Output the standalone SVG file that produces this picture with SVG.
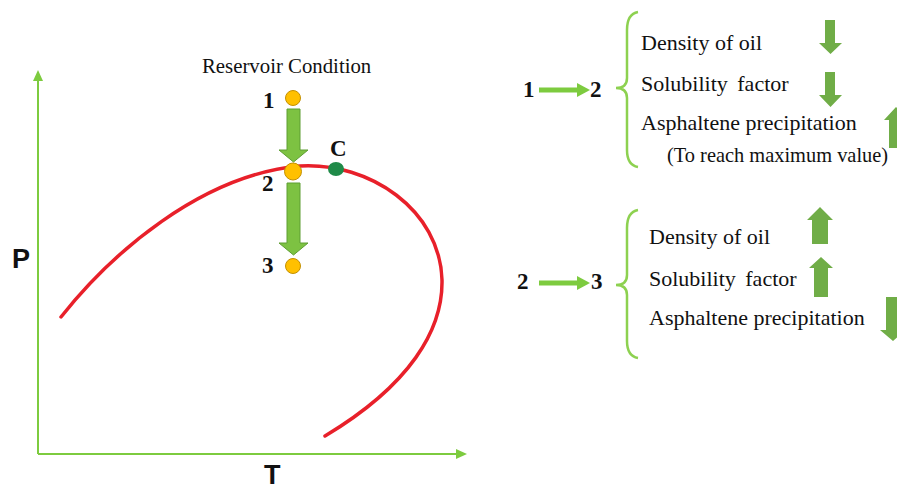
<svg xmlns="http://www.w3.org/2000/svg" width="897" height="489" viewBox="0 0 897 489">
<style>
.ser{font-family:"Liberation Serif","Times New Roman",serif;fill:#111}
.num{font-family:"Liberation Serif","Times New Roman",serif;font-weight:bold;font-size:23px;fill:#111}
.item{font-size:22px}
.axis{stroke:#7DCB3F;stroke-width:2;fill:none}
.brace{stroke:#8DD150;stroke-width:2.5;fill:none}
.garrow{fill:#70AD47}
.varrow{fill:#7DC242;stroke:#5E9E33;stroke-width:1}
.pt{fill:#FFC000;stroke:#C49000;stroke-width:1}
.lab{font-family:"Liberation Sans",Arial,sans-serif;font-weight:bold;font-size:27px;fill:#111}
.small{stroke:#7DCB3F;stroke-width:5}
</style>

<g id="axes">
<line class="axis" x1="38" y1="454" x2="38" y2="78"/>
<polygon points="38,70 33,81 43,81" fill="#7DCB3F"/>
<line class="axis" x1="38" y1="454" x2="457" y2="454"/>
<polygon points="467,454 456,449 456,459" fill="#7DCB3F"/>
<text class="lab" x="12" y="268">P</text>
<text class="lab" x="264" y="484">T</text>
</g>

<g id="curve">
<path d="M61,317 C110,255 200,175 300,166 C370,162 440,210 442,280 C443,330 410,385 325,436" fill="none" stroke="#E8202A" stroke-width="3.5" stroke-linecap="round"/>
</g>

<g id="title"><text class="ser" x="202" y="73" font-size="20.8">Reservoir Condition</text></g>

<g id="connectors">
<polygon class="varrow" points="287,109 300,109 300,150 308,150 293.5,162 279,150 287,150"/>
<polygon class="varrow" points="287,183 300,183 300,243 308,243 293.5,255 279,243 287,243"/>
</g>

<g id="p1"><circle class="pt" cx="293" cy="98" r="7.5"/><text class="num" x="263" y="108">1</text></g>
<g id="p2"><circle class="pt" cx="293" cy="171.5" r="8.5"/><text class="num" x="262" y="191">2</text></g>
<g id="p3"><circle class="pt" cx="293" cy="266" r="7.5"/><text class="num" x="262" y="273">3</text></g>
<g id="pc"><ellipse cx="336" cy="169" rx="8" ry="7" fill="#1F8A48"/><text class="num" x="330" y="156">C</text></g>

<g id="group12">
<text class="num" x="523" y="97">1</text>
<line class="small" x1="539" y1="90" x2="578" y2="90"/>
<polygon points="590,90 577,83 577,97" fill="#7DCB3F"/>
<text class="num" x="590" y="97">2</text>
<path class="brace" d="M638,12 Q627,14 627,30 L627,78 Q627,88 616,88 Q627,88 627,98 L627,150 Q627,165 638,167"/>
<text class="ser item" x="641" y="50">Density of oil</text>
<text class="ser item" x="641" y="91" word-spacing="4">Solubility factor</text>
<text class="ser item" x="641" y="130">Asphaltene precipitation</text>
<text class="ser" x="667" y="162" font-size="20.4">(To reach maximum value)</text>
<polygon class="garrow" points="825,20 835,20 835,43 842,43 830.5,54 819,43 825,43"/>
<polygon class="garrow" points="825,72 835,72 835,95 842,95 830.5,107 819,95 825,95"/>
<polygon class="garrow" points="889,148 901,148 901,120 908,120 896,107 884,120 889,120"/>
</g>

<g id="group23">
<text class="num" x="517" y="289">2</text>
<line class="small" x1="539" y1="283" x2="578" y2="283"/>
<polygon points="590,283 577,276 577,290" fill="#7DCB3F"/>
<text class="num" x="591" y="289">3</text>
<path class="brace" d="M638,210 Q627,212 627,228 L627,275 Q627,285 616,285 Q627,285 627,295 L627,341 Q627,356 638,358"/>
<text class="ser item" x="649" y="244">Density of oil</text>
<text class="ser item" x="649" y="286" word-spacing="4">Solubility factor</text>
<text class="ser item" x="649" y="325">Asphaltene precipitation</text>
<polygon class="garrow" points="812,244 828,244 828,220 833,220 820,207 807,220 812,220"/>
<polygon class="garrow" points="814,297 828,297 828,268 833,268 821,257 809,268 814,268"/>
<polygon class="garrow" points="886,297 900,297 900,330 906,330 893,341 880,330 886,330"/>
</g>
</svg>
